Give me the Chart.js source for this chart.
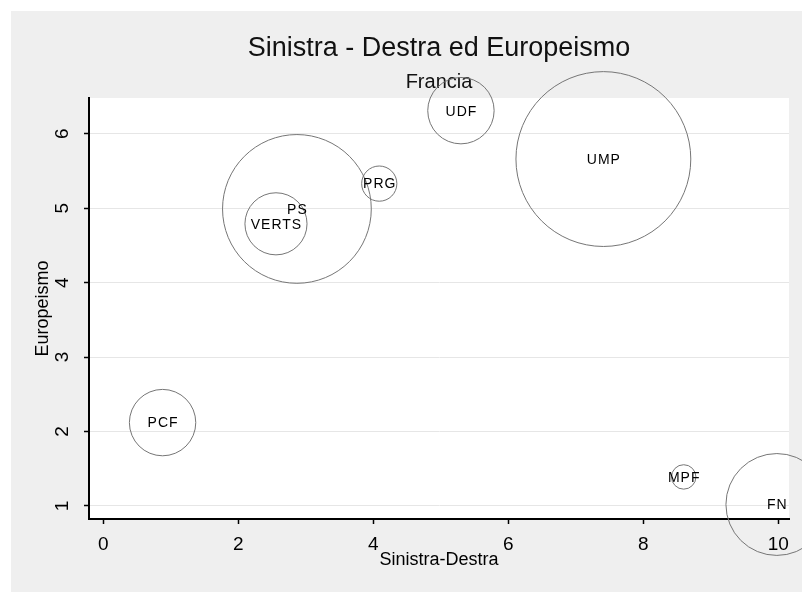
<!DOCTYPE html>
<html><head><meta charset="utf-8">
<script src="https://cdn.jsdelivr.net/npm/chart.js@4"></script>
<style>html,body{margin:0;padding:0;background:#fff}#wrap{width:802px;height:592px}</style>
</head><body><div id="wrap"><canvas id="c" width="802" height="592"></canvas></div>
<script>
// ---- data ----
const parties    = ['PCF', 'VERTS', 'PS', 'PRG', 'UDF', 'UMP', 'MPF', 'FN'];
const leftRight  = [0.88, 2.56, 2.87, 4.09, 5.30, 7.41, 8.60, 9.98];
const europeism  = [2.12, 4.79, 4.99, 5.33, 6.31, 5.66, 1.39, 1.02];
const voteShare  = [4.8, 4.2, 24.1, 1.35, 4.8, 33.3, 0.65, 11.3];
const xTicks     = [0, 2, 4, 6, 8, 10];
const yTicks     = [1, 2, 3, 4, 5, 6];

const FONT = "'Liberation Sans', Arial, sans-serif";
const RADIUS_SCALE = 15.15; // px per sqrt(weight)

const points = parties.map((p, i) => ({
  x: leftRight[i], y: europeism[i], r: RADIUS_SCALE * Math.sqrt(voteShare[i])
}));

const bgPlugin = {
  id: 'bg',
  beforeDraw(chart) {
    const {ctx, chartArea: a} = chart;
    ctx.save();
    ctx.fillStyle = '#ffffff';
    ctx.fillRect(0, 0, chart.width, chart.height);
    ctx.fillStyle = '#efefef';
    ctx.fillRect(11, 11, chart.width - 11, chart.height - 11);
    ctx.fillStyle = '#ffffff';
    ctx.fillRect(a.left, a.top, a.right - a.left, a.bottom - a.top);
    ctx.restore();
  }
};

const labelPlugin = {
  id: 'bubbleLabels',
  afterDatasetsDraw(chart) {
    const {ctx} = chart;
    const meta = chart.getDatasetMeta(0);
    ctx.save();
    ctx.font = '14px ' + FONT;
    ctx.fillStyle = '#000';
    ctx.textAlign = 'center';
    ctx.textBaseline = 'middle';
    try { ctx.letterSpacing = '1px'; } catch (e) {}
    meta.data.forEach((el, i) => {
      ctx.fillText(parties[i], el.x + 0.5, el.y + 1);
    });
    ctx.restore();
  }
};

new Chart(document.getElementById('c'), {
  type: 'bubble',
  data: {
    datasets: [{
      data: points,
      backgroundColor: 'rgba(0,0,0,0)',
      borderColor: '#767676',
      borderWidth: 1,
      hoverBorderWidth: 1,
      clip: false
    }]
  },
  options: {
    responsive: false,
    animation: false,
    devicePixelRatio: 1,
    events: [],
    layout: { autoPadding: false, padding: { left: 0, top: 0, right: 13, bottom: 0 } },
    plugins: {
      legend: { display: false },
      tooltip: { enabled: false },
      title: {
        display: true,
        text: 'Sinistra - Destra ed Europeismo',
        fullSize: false,
        color: '#111',
        font: { family: FONT, size: 27, weight: 'normal', lineHeight: 1.2 },
        padding: { top: 32, bottom: 0 }
      },
      subtitle: {
        display: true,
        text: 'Francia',
        fullSize: false,
        color: '#111',
        font: { family: FONT, size: 20, weight: 'normal', lineHeight: 1.2 },
        padding: { top: 6, bottom: 3.6 }
      }
    },
    scales: {
      x: {
        type: 'linear',
        min: -0.21,
        max: 10.16,
        afterBuildTicks: s => { s.ticks = xTicks.map(v => ({ value: v })); },
        afterFit: s => { s.height = 73; },
        ticks: {
          includeBounds: false,
          color: '#000',
          padding: 9,
          font: { family: FONT, size: 19 },
          maxRotation: 0,
          autoSkip: false
        },
        grid: { drawOnChartArea: false, drawTicks: true, tickLength: 5, tickColor: '#000', tickWidth: 1.5 },
        border: { display: true, color: '#000', width: 2 },
        title: {
          display: true,
          text: 'Sinistra-Destra',
          color: '#000',
          font: { family: FONT, size: 18, lineHeight: 1.2 },
          padding: { top: 0, bottom: 21 }
        }
      },
      y: {
        type: 'linear',
        min: 0.825,
        max: 6.48,
        afterBuildTicks: s => { s.ticks = yTicks.map(v => ({ value: v })); },
        afterFit: s => { s.width = 89; },
        ticks: {
          includeBounds: false,
          color: '#000',
          padding: 16,
          crossAlign: 'center',
          minRotation: 90,
          maxRotation: 90,
          font: { family: FONT, size: 19 },
          autoSkip: false
        },
        grid: { color: '#e6e6e6', lineWidth: 1, drawTicks: true, tickLength: 5, tickColor: '#000', tickWidth: 1.5 },
        border: { display: true, color: '#000', width: 2 },
        title: {
          display: true,
          text: 'Europeismo',
          color: '#000',
          font: { family: FONT, size: 18, lineHeight: 1.2 },
          padding: { top: 32, bottom: 0 }
        }
      }
    }
  },
  plugins: [bgPlugin, labelPlugin]
});
</script>
</body></html>
